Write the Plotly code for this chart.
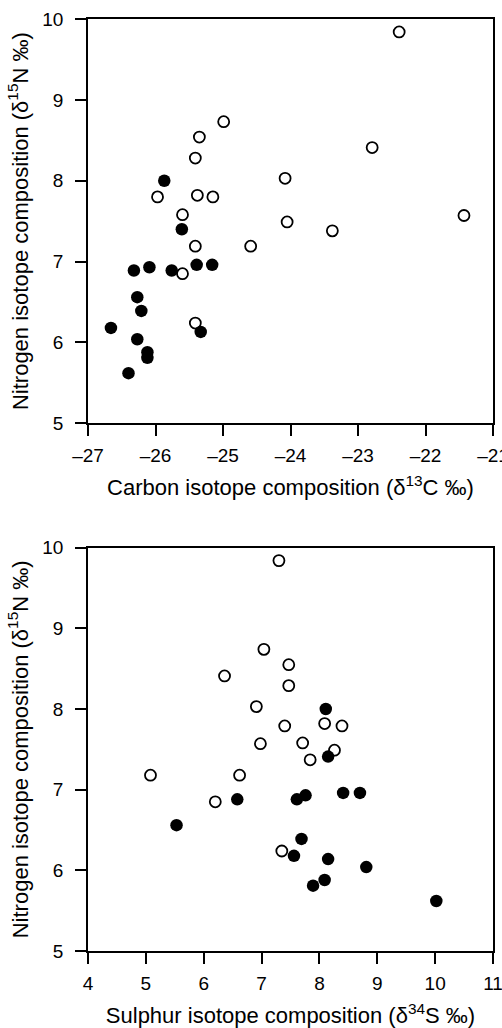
import plotly.graph_objects as go

# Top panel: carbon vs nitrogen
c_open_x = [-22.39, -24.99, -25.35, -25.41, -22.79, -24.08, -25.97, -25.38, -25.15,
            -25.60, -24.05, -23.38, -21.43, -25.41, -24.59, -25.60, -25.41]
c_open_y = [9.84, 8.73, 8.54, 8.28, 8.41, 8.03, 7.80, 7.82, 7.80,
            7.58, 7.49, 7.38, 7.57, 7.19, 7.19, 6.85, 6.24]
c_fill_x = [-25.87, -25.61, -26.32, -26.09, -25.76, -25.39, -25.16, -26.27,
            -26.21, -26.66, -25.33, -26.27, -26.12, -26.12, -26.40]
c_fill_y = [8.00, 7.40, 6.89, 6.93, 6.89, 6.96, 6.96, 6.56,
            6.39, 6.18, 6.13, 6.04, 5.88, 5.81, 5.62]

# Bottom panel: sulphur vs nitrogen
s_open_x = [7.30, 7.04, 7.47, 6.36, 7.47, 6.91, 7.40, 8.09, 8.39,
            6.98, 7.71, 8.26, 7.84, 5.08, 6.62, 6.20, 7.35]
s_open_y = [9.84, 8.74, 8.55, 8.41, 8.29, 8.03, 7.79, 7.82, 7.79,
            7.57, 7.58, 7.49, 7.37, 7.18, 7.18, 6.85, 6.24]
s_fill_x = [8.11, 8.15, 6.58, 7.61, 7.76, 8.41, 8.70, 5.53,
            7.69, 7.56, 8.15, 8.81, 8.09, 7.89, 10.02]
s_fill_y = [8.00, 7.41, 6.88, 6.88, 6.93, 6.96, 6.96, 6.56,
            6.39, 6.18, 6.14, 6.04, 5.88, 5.81, 5.62]

x1_ticks = [-27, -26, -25, -24, -23, -22, -21]
x1_labels = ["\u201327", "\u201326", "\u201325", "\u201324", "\u201323", "\u201322", "\u201321"]
x2_ticks = [4, 5, 6, 7, 8, 9, 10, 11]
y_ticks = [5, 6, 7, 8, 9, 10]

FONT = "Liberation Sans, Arial, sans-serif"
open_marker = dict(size=11, color="white", line=dict(color="black", width=1.8))
fill_marker = dict(size=12.5, color="black", line=dict(color="black", width=0))

fig = go.Figure()
fig.add_trace(go.Scatter(x=c_open_x, y=c_open_y, mode="markers", marker=open_marker,
                         xaxis="x", yaxis="y", showlegend=False))
fig.add_trace(go.Scatter(x=c_fill_x, y=c_fill_y, mode="markers", marker=fill_marker,
                         xaxis="x", yaxis="y", showlegend=False))
fig.add_trace(go.Scatter(x=s_open_x, y=s_open_y, mode="markers", marker=open_marker,
                         xaxis="x2", yaxis="y2", showlegend=False))
fig.add_trace(go.Scatter(x=s_fill_x, y=s_fill_y, mode="markers", marker=fill_marker,
                         xaxis="x2", yaxis="y2", showlegend=False))

axis_common = dict(showline=True, linecolor="black", linewidth=1.5, mirror=True,
                   ticks="outside", ticklen=11, tickwidth=1.5, tickcolor="black",
                   showgrid=False, zeroline=False, automargin=False,
                   ticklabeloverflow="allow",
                   tickfont=dict(family=FONT, size=19, color="black"))
x_common = dict(axis_common, ticklabelstandoff=3)
y_common = dict(axis_common, ticklabelstandoff=8)
title_font = dict(family=FONT, size=22, color="black")

fig.update_layout(
    width=502, height=1028,
    margin=dict(l=88, r=9, t=19, b=77),
    paper_bgcolor="white", plot_bgcolor="white",
    xaxis=dict(x_common, domain=[0, 1], anchor="y", range=[-27, -21],
               tickvals=x1_ticks, ticktext=x1_labels,
               title=dict(text="Carbon isotope composition (\u03b4<sup>13</sup>C \u2030)", font=title_font, standoff=15)),
    yaxis=dict(y_common, domain=[0.5662, 1], anchor="x", range=[5, 10], tickvals=y_ticks,
               title=dict(text="Nitrogen isotope composition (\u03b4<sup>15</sup>N \u2030)", font=title_font, standoff=8)),
    xaxis2=dict(x_common, domain=[0, 1], anchor="y2", range=[4, 11], tickvals=x2_ticks,
                title=dict(text="Sulphur isotope composition (\u03b4<sup>34</sup>S \u2030)", font=title_font, standoff=15)),
    yaxis2=dict(y_common, domain=[0, 0.4327], anchor="x2", range=[5, 10], tickvals=y_ticks,
                title=dict(text="Nitrogen isotope composition (\u03b4<sup>15</sup>N \u2030)", font=title_font, standoff=8)),
)

fig.write_html("out.html", config={"displayModeBar": False},
               post_script="document.body.style.margin='0';")
